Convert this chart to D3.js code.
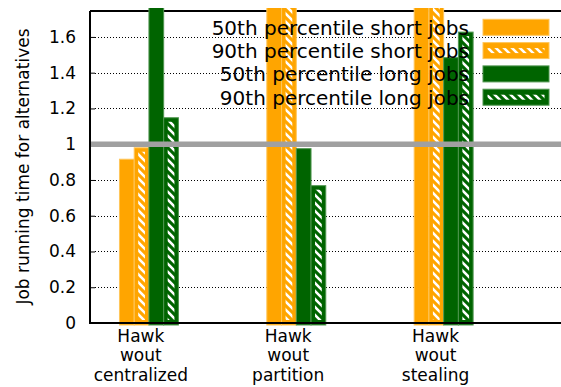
<!DOCTYPE html>
<html>
<head>
<meta charset="utf-8">
<script src="https://cdn.jsdelivr.net/npm/d3@7/dist/d3.min.js"></script>
<style>
  html, body { margin: 0; padding: 0; background: #fff; }
  svg { display: block; }
  text { font-family: "DejaVu Sans", sans-serif; fill: #000; }
</style>
</head>
<body>
<svg id="chart" width="561" height="387"></svg>
<script>
// Job running time of each Hawk variant, normalised to full Hawk (1.0)
const categories = [
  ["Hawk", "wout", "centralized"],
  ["Hawk", "wout", "partition"],
  ["Hawk", "wout", "stealing"]
];
const seriesNames = [
  "50th percentile short jobs",
  "90th percentile short jobs",
  "50th percentile long jobs",
  "90th percentile long jobs"
];
// values above the y range run off the top of the plot
const short50 = [0.916, 1.95, 1.95];
const short90 = [0.98, 2.05, 2.0];
const long50  = [1.9, 0.975, 1.484];
const long90  = [1.148, 0.768, 1.627];
const yTicks = [0, 0.2, 0.4, 0.6, 0.8, 1, 1.2, 1.4, 1.6];
const referenceLine = 1;

const series = [short50, short90, long50, long90];
const seriesColor = ["#ffa500", "#ffa500", "#006400", "#006400"];
const seriesEdge  = ["#ffc65a", "#ffc65a", "#4f954f", "#4f954f"];
const seriesHatched = [false, true, false, true];

const W = 561, H = 387;
const mLeft = 90, mTop = 11, mBottom = 323, mRight = 591;

const svg = d3.select("#chart");

const x = d3.scaleLinear().domain([0.6, 4.0]).range([mLeft, mRight]);
const y = d3.scaleLinear().domain([0, 1.745]).range([mBottom, mTop]);
const barW = x(0.1) - x(0);
const offsets = [-0.2, -0.1, 0, 0.1];

// hatch patterns: white "\" stripes on the series colour
const defs = svg.append("defs");
["#ffa500", "#006400"].forEach((c, i) => {
  const p = defs.append("pattern")
    .attr("id", "hatch" + i)
    .attr("patternUnits", "userSpaceOnUse")
    .attr("width", 8).attr("height", 8);
  p.append("rect").attr("width", 8).attr("height", 8).attr("fill", c);
  p.append("path")
    .attr("d", "M0,0L8,8M-4,4L4,12M4,-4L12,4")
    .attr("stroke", "#fff").attr("stroke-width", 2.6)
    .attr("stroke-linecap", "square");
});
defs.append("clipPath").attr("id", "plotClip")
  .append("rect").attr("x", mLeft).attr("y", mTop - 3)
  .attr("width", W - mLeft).attr("height", H - mTop);

// top frame line sits behind the bars
svg.append("path")
  .attr("d", `M${mLeft},${mTop}H${W}`)
  .attr("stroke", "#000").attr("stroke-width", 2).attr("fill", "none");

// dotted grid
svg.append("g").selectAll("line")
  .data(yTicks.filter(t => t > 0))
  .join("line")
  .attr("x1", mLeft + 5).attr("x2", W)
  .attr("y1", d => Math.round(y(d)) + 0.5).attr("y2", d => Math.round(y(d)) + 0.5)
  .attr("stroke", "#000").attr("stroke-width", 1)
  .attr("stroke-dasharray", "1,2");

// y axis with inward ticks
const yAxis = svg.append("g")
  .attr("transform", `translate(${mLeft},0)`)
  .call(d3.axisLeft(y).tickValues(yTicks).tickSize(-5).tickPadding(14)
    .tickFormat(d3.format("~g")));
yAxis.select(".domain").remove();
yAxis.selectAll("line").attr("stroke", "#000").attr("stroke-width", 1);
yAxis.attr("font-family", null).attr("font-size", null);
yAxis.selectAll("text")
  .attr("font-family", "DejaVu Sans, sans-serif")
  .attr("font-size", 17).attr("fill", "#000");

// bars
const barsG = svg.append("g").attr("clip-path", "url(#plotClip)");
series.forEach((vals, k) => {
  const g = barsG.append("g");
  vals.forEach((v, i) => {
    const x0 = x(i + 1 + offsets[k]);
    const y0 = y(v);
    const h = y(0) - y0 + 2;
    g.append("rect")
      .attr("x", x0).attr("y", y0)
      .attr("width", barW).attr("height", h)
      .attr("fill", seriesColor[k])
      .attr("stroke", seriesEdge[k]).attr("stroke-width", 1);
    if (seriesHatched[k]) {
      const inset = 4;
      g.append("rect")
        .attr("x", x0 + inset).attr("y", y0 + inset)
        .attr("width", Math.max(0, barW - 2 * inset))
        .attr("height", Math.max(0, h - 2 * inset - 1))
        .attr("fill", `url(#hatch${k < 2 ? 0 : 1})`);
    }
  });
});

// left and bottom frame lines
svg.append("path")
  .attr("d", `M${mLeft},${mTop}V${mBottom}H${W}`)
  .attr("stroke", "#000").attr("stroke-width", 2).attr("fill", "none");

// reference line at 1.0
svg.append("line")
  .attr("x1", mLeft + 1).attr("x2", W)
  .attr("y1", y(referenceLine)).attr("y2", y(referenceLine))
  .attr("stroke", "#a0a0a0").attr("stroke-width", 5.5);

// category labels
const xl = svg.append("g").attr("font-size", 17).attr("text-anchor", "middle");
categories.forEach((lines, i) => {
  const t = xl.append("text").attr("x", x(i + 1 - 0.055));
  lines.forEach((s, j) => {
    t.append("tspan").attr("x", x(i + 1 - 0.055)).attr("y", 341.7 + j * 19.7).text(s);
  });
});

// y axis title
svg.append("text")
  .attr("transform", `translate(29,166.5) rotate(-90)`)
  .attr("text-anchor", "middle")
  .attr("font-size", 17)
  .text("Job running time for alternatives");

// legend
const legend = svg.append("g").attr("font-size", 20);
seriesNames.forEach((name, k) => {
  const by = 34.7 + k * 23.3;
  legend.append("text")
    .attr("x", 469).attr("y", by)
    .attr("text-anchor", "end")
    .text(name);
  legend.append("rect")
    .attr("x", 483).attr("y", by - 15.4)
    .attr("width", 66).attr("height", 16)
    .attr("fill", seriesColor[k])
    .attr("stroke", seriesEdge[k]).attr("stroke-width", 1);
  if (seriesHatched[k]) {
    legend.append("rect")
      .attr("x", 483 + 4.5).attr("y", by - 15.4 + 5.5)
      .attr("width", 66 - 9).attr("height", 16 - 11)
      .attr("fill", `url(#hatch${k < 2 ? 0 : 1})`);
  }
});
</script>
</body>
</html>
